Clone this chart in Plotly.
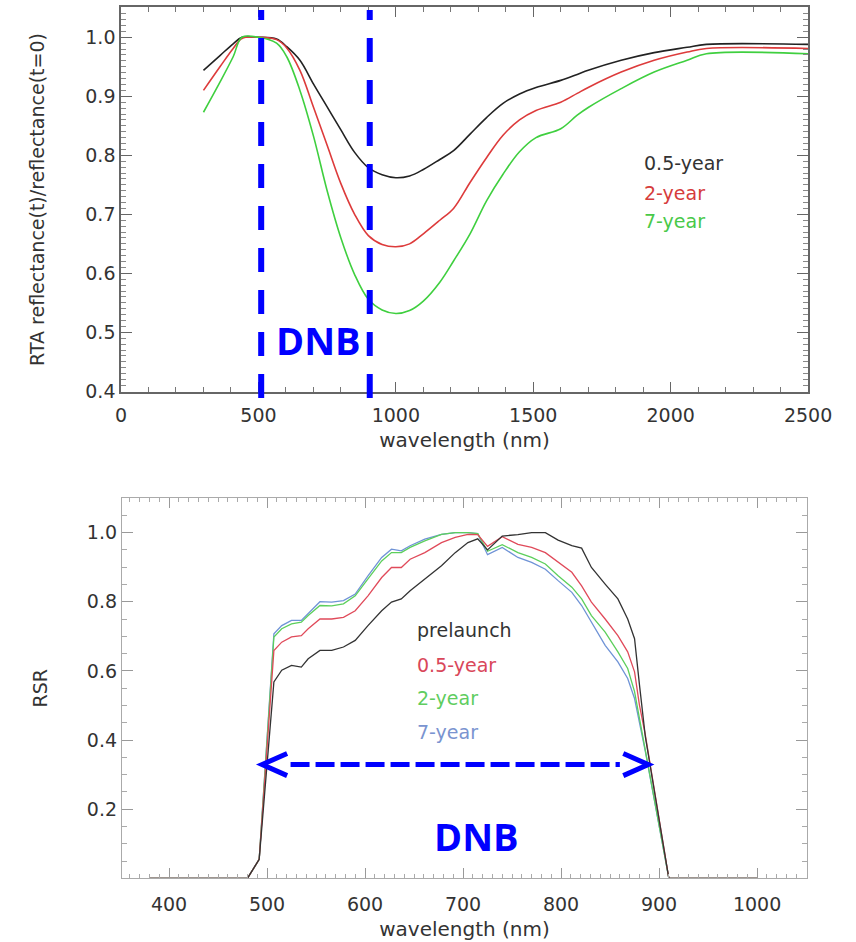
import plotly.graph_objects as go

# ---------------- top panel data ----------------
wl_top = [300, 360, 408, 440, 500, 566, 603, 651, 700, 750, 800, 850, 900, 950, 1000,
          1050, 1100, 1160, 1210, 1270, 1330, 1390, 1450, 1510, 1600, 1660, 1700, 1820,
          1940, 2060, 2130, 2500]
ratio_05yr = [0.944, 0.969, 0.989, 1.0, 1.0, 0.997, 0.984, 0.961, 0.921, 0.882, 0.843, 0.805,
              0.779, 0.767, 0.762, 0.765, 0.776, 0.793, 0.808, 0.836, 0.864, 0.888, 0.904,
              0.915, 0.927, 0.937, 0.944, 0.961, 0.974, 0.983, 0.988, 0.988]
ratio_2yr = [0.910, 0.950, 0.981, 0.998, 1.0, 0.996, 0.982, 0.944, 0.882, 0.817, 0.752, 0.700,
             0.664, 0.649, 0.645, 0.650, 0.667, 0.690, 0.710, 0.754, 0.796, 0.834, 0.860,
             0.876, 0.890, 0.905, 0.915, 0.941, 0.961, 0.975, 0.981, 0.981]
ratio_7yr = [0.873, 0.924, 0.967, 1.0, 1.0, 0.990, 0.967, 0.910, 0.833, 0.740, 0.660, 0.598,
             0.556, 0.538, 0.532, 0.537, 0.553, 0.585, 0.621, 0.667, 0.723, 0.768, 0.806,
             0.830, 0.845, 0.868, 0.881, 0.913, 0.941, 0.961, 0.972, 0.972]
top_names = ["0.5-year", "2-year", "7-year"]
top_colors = ["#222222", "#dd3b3b", "#3fcf3f"]
top_label_colors = ["#333333", "#d63c3c", "#49c949"]
dnb_edges = [510, 905]

# ---------------- bottom panel data ----------------
wl_rsr = [380, 480, 492, 507, 515, 525, 535, 542, 554, 566, 578, 590, 603, 617, 627, 637,
          646, 661, 678, 692, 705, 715, 725, 740, 756, 770, 784, 797, 811, 821, 831, 845,
          858, 868, 875, 880, 886, 910, 1000]
rsr_pre = [0, 0, 0.055, 0.568, 0.602, 0.616, 0.611, 0.635, 0.659, 0.659, 0.669, 0.688, 0.731,
           0.774, 0.799, 0.808, 0.832, 0.866, 0.904, 0.942, 0.971, 0.982, 0.950, 0.990, 0.994,
           1.0, 1.0, 0.978, 0.962, 0.955, 0.899, 0.851, 0.808, 0.750, 0.693, 0.560, 0.410, 0, 0]
rsr_05yr = [0, 0, 0.055, 0.659, 0.683, 0.698, 0.702, 0.722, 0.750, 0.750, 0.755, 0.774, 0.817,
            0.870, 0.899, 0.899, 0.923, 0.942, 0.971, 0.986, 0.995, 0.994, 0.960, 0.988, 0.966,
            0.957, 0.942, 0.914, 0.885, 0.846, 0.799, 0.750, 0.702, 0.655, 0.597, 0.501, 0.415, 0, 0]
rsr_2yr = [0, 0, 0.055, 0.698, 0.722, 0.736, 0.741, 0.760, 0.789, 0.788, 0.794, 0.817, 0.866,
           0.918, 0.942, 0.942, 0.957, 0.976, 0.995, 1.0, 1.0, 0.997, 0.946, 0.965, 0.942,
           0.928, 0.909, 0.875, 0.842, 0.808, 0.760, 0.712, 0.655, 0.607, 0.540, 0.463, 0.367, 0, 0]
rsr_7yr = [0, 0, 0.055, 0.707, 0.731, 0.746, 0.746, 0.765, 0.800, 0.799, 0.803, 0.822, 0.875,
           0.928, 0.952, 0.947, 0.962, 0.981, 0.995, 1.0, 1.0, 0.997, 0.936, 0.957, 0.928,
           0.914, 0.894, 0.861, 0.827, 0.789, 0.741, 0.674, 0.626, 0.578, 0.520, 0.453, 0.367, 0, 0]
bot_names = ["prelaunch", "0.5-year", "2-year", "7-year"]
bot_colors = ["#333333", "#e04a5a", "#5ccf5c", "#6f93d6"]
bot_label_colors = ["#333333", "#d9475a", "#5fcd5f", "#7a94d0"]
arrow_y = 0.329
arrow_left, arrow_right = 495, 889

BLUE = "#0000ff"
FONT = "DejaVu Sans"

fig = go.Figure()

for ys, name, c in zip([ratio_05yr, ratio_2yr, ratio_7yr], top_names, top_colors):
    fig.add_trace(go.Scatter(x=wl_top, y=ys, mode="lines", name=name,
                             line=dict(color=c, width=1.6, shape="spline", smoothing=1.0),
                             xaxis="x", yaxis="y", showlegend=False))

for ys, name, c in zip([rsr_7yr, rsr_2yr, rsr_05yr, rsr_pre], bot_names[::-1], bot_colors[::-1]):
    fig.add_trace(go.Scatter(x=wl_rsr, y=ys, mode="lines", name=name,
                             line=dict(color=c, width=1.3),
                             xaxis="x2", yaxis="y2", showlegend=False))

axis_common = dict(showgrid=False, zeroline=False, showline=True, mirror="allticks",
                   ticks="inside", automargin=False,
                   tickfont=dict(family=FONT, size=19, color="#333333"))

fig.update_layout(
    width=856, height=942,
    margin=dict(l=0, r=0, t=0, b=0, autoexpand=False),
    paper_bgcolor="white", plot_bgcolor="white",
    xaxis=dict(domain=[0.1414, 0.944], range=[0, 2500], anchor="y",
               tickvals=[0, 500, 1000, 1500, 2000, 2500], ticklen=10, tickcolor="#666",
               linecolor="#666", linewidth=1.5, ticklabelstandoff=5,
               minor=dict(dtick=100, tick0=0, ticklen=5, ticks="inside", tickcolor="#777"),
               title=dict(text="wavelength (nm)", font=dict(family=FONT, size=20, color="#333"),
                          standoff=8),
               **axis_common),
    yaxis=dict(domain=[0.58386, 0.99257], range=[0.399, 1.0513], anchor="x",
               tickvals=[0.4, 0.5, 0.6, 0.7, 0.8, 0.9, 1.0], tickformat=".1f",
               ticklen=11, tickcolor="#666", linecolor="#666", linewidth=1.5,
               minor=dict(dtick=0.01, tick0=0, ticklen=5, ticks="inside", tickcolor="#888"),
               title=dict(text="RTA reflectance(t)/reflectance(t=0)",
                          font=dict(family=FONT, size=19, color="#333"), standoff=36),
               **axis_common),
    xaxis2=dict(domain=[0.1425, 0.9428], range=[352, 1051], anchor="y2",
                tickvals=[400, 500, 600, 700, 800, 900, 1000], ticklen=10, tickcolor="#999",
                linecolor="#aaa", linewidth=1.2, ticklabelstandoff=9,
                minor=dict(dtick=10, tick0=0, ticklen=4, ticks="inside", tickcolor="#aaa"),
                title=dict(text="wavelength (nm)", font=dict(family=FONT, size=20, color="#333"),
                           standoff=7),
                **axis_common),
    yaxis2=dict(domain=[0.06762, 0.47134], range=[0.0, 1.1], anchor="x2",
                tickvals=[0.2, 0.4, 0.6, 0.8, 1.0], tickformat=".1f",
                ticklen=11, tickcolor="#999", linecolor="#aaa", linewidth=1.2,
                minor=dict(dtick=0.05, tick0=0, ticklen=5, ticks="inside", tickcolor="#aaa"),
                title=dict(text="RSR", font=dict(family=FONT, size=19, color="#333"), standoff=34),
                **axis_common),
)

shapes = []
# DNB band edges in the top panel (drawn bottom-up so the dash pattern starts at the bottom)
for xe in dnb_edges:
    shapes.append(dict(type="line", xref="x", yref="paper", x0=xe, x1=xe, y0=0.5775, y1=0.9894,
                       line=dict(color=BLUE, width=6, dash="24px,18px"), layer="above"))
# DNB arrow in the bottom panel
shapes.append(dict(type="line", xref="x2", yref="y2", x0=arrow_left + 29, x1=arrow_right - 29,
                   y0=arrow_y, y1=arrow_y, line=dict(color=BLUE, width=5, dash="19px,6px")))
for tip, sgn in [(arrow_left, 1), (arrow_right, -1)]:
    shapes.append(dict(type="path", xref="x2", yref="y2",
                       path=f"M {tip + sgn*25.5},{arrow_y + 0.032} L {tip},{arrow_y} L {tip + sgn*25.5},{arrow_y - 0.032}",
                       line=dict(color=BLUE, width=5)))
fig.update_layout(shapes=shapes)

ann = []
ann.append(dict(x=720, y=0.487, xref="x", yref="y", text="<b>DNB</b>", showarrow=False,
                font=dict(family="Open Sans", size=38, color=BLUE), xanchor="center", yanchor="middle"))
ann.append(dict(x=714, y=0.121, xref="x2", yref="y2", text="<b>DNB</b>", showarrow=False,
                font=dict(family="Open Sans", size=38, color=BLUE), xanchor="center", yanchor="middle"))
top_leg_y = [0.7875, 0.7365, 0.689]
for name, c, yy in zip(top_names, top_label_colors, top_leg_y):
    ann.append(dict(x=1896, y=yy, xref="x", yref="y", text=name, showarrow=False,
                    font=dict(family=FONT, size=19, color=c), xanchor="left", yanchor="middle"))
bot_leg_y = [0.717, 0.616, 0.522, 0.424]
for name, c, yy in zip(bot_names, bot_label_colors, bot_leg_y):
    ann.append(dict(x=651, y=yy, xref="x2", yref="y2", text=name, showarrow=False,
                    font=dict(family=FONT, size=19, color=c), xanchor="left", yanchor="middle"))
fig.update_layout(annotations=ann)

fig.write_html("out.html")
